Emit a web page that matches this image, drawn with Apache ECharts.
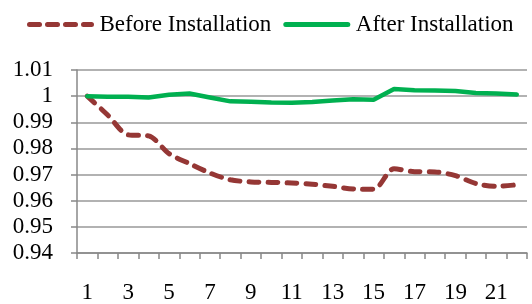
<!DOCTYPE html>
<html>
<head>
<meta charset="utf-8">
<script src="https://cdn.jsdelivr.net/npm/echarts@6/dist/echarts.min.js"></script>
<style>
  html, body { margin: 0; padding: 0; background: #fff; }
  #chart { width: 532px; height: 304px; }
</style>
</head>
<body>
<div id="chart"></div>
<script>
const categories = ["1","2","3","4","5","6","7","8","9","10","11","12","13","14","15","16","17","18","19","20","21","22"];
const beforeInstall = [1.0, 0.9928, 0.9852, 0.9848, 0.978, 0.9742, 0.9706, 0.968, 0.9672, 0.967, 0.9668, 0.9663, 0.9655, 0.9645, 0.9644, 0.9722, 0.9711, 0.971, 0.9696, 0.9666, 0.9655, 0.9661];
const afterInstall = [1.0, 0.9998, 0.9998, 0.9995, 1.0005, 1.001, 0.9995, 0.998, 0.9979, 0.9976, 0.9975, 0.9978, 0.9983, 0.9988, 0.9986, 1.0027, 1.0023, 1.0022, 1.002, 1.0012, 1.001, 1.0006];

const font = "'Liberation Serif', 'Times New Roman', serif";
const chart = echarts.init(document.getElementById("chart"));
chart.setOption({
  animation: false,
  textStyle: { fontFamily: font },
  legend: {
    top: 8,
    left: 22,
    itemWidth: 62,
    itemHeight: 14,
    itemGap: 12,
    itemStyle: { opacity: 0 },
    textStyle: { fontFamily: font, fontSize: 23, color: "#000", padding: [0, 0, 0, 3] },
    data: [
      { name: "Before Installation", lineStyle: { width: 5, type: [10, 8], cap: "round", color: "#953735" } },
      { name: "After Installation", lineStyle: { width: 5, cap: "round", color: "#00B050" } },
    ],
  },
  grid: { left: 77, right: 5, top: 70, bottom: 51 },
  xAxis: {
    type: "category",
    data: categories,
    boundaryGap: true,
    axisLine: { lineStyle: { color: "#888", width: 1.5 } },
    axisTick: { show: true, length: 6, interval: 0, lineStyle: { color: "#888", width: 1.5 } },
    axisLabel: { interval: 1, margin: 28, fontSize: 23, color: "#000", fontFamily: font },
  },
  yAxis: {
    type: "value",
    min: 0.94,
    max: 1.01,
    interval: 0.01,
    axisLine: { show: true, lineStyle: { color: "#888", width: 1.5 } },
    axisTick: { show: true, length: 6, lineStyle: { color: "#888", width: 1.5 } },
    splitLine: { lineStyle: { color: "#999", width: 1.5 } },
    axisLabel: {
      margin: 24,
      fontSize: 23,
      color: "#000",
      fontFamily: font,
      formatter: (v) => String(parseFloat(v.toFixed(2))),
    },
  },
  series: [
    {
      name: "Before Installation",
      type: "line",
      data: beforeInstall,
      smooth: 0.3,
      symbol: "none",
      lineStyle: { color: "#953735", width: 5, type: [10, 9], cap: "round" },
      itemStyle: { color: "#953735" },
    },
    {
      name: "After Installation",
      type: "line",
      data: afterInstall,
      symbol: "none",
      lineStyle: { color: "#00B050", width: 4.5, cap: "round" },
      itemStyle: { color: "#00B050" },
    },
  ],
});
window.addEventListener("resize", () => chart.resize());
</script>
</body>
</html>
